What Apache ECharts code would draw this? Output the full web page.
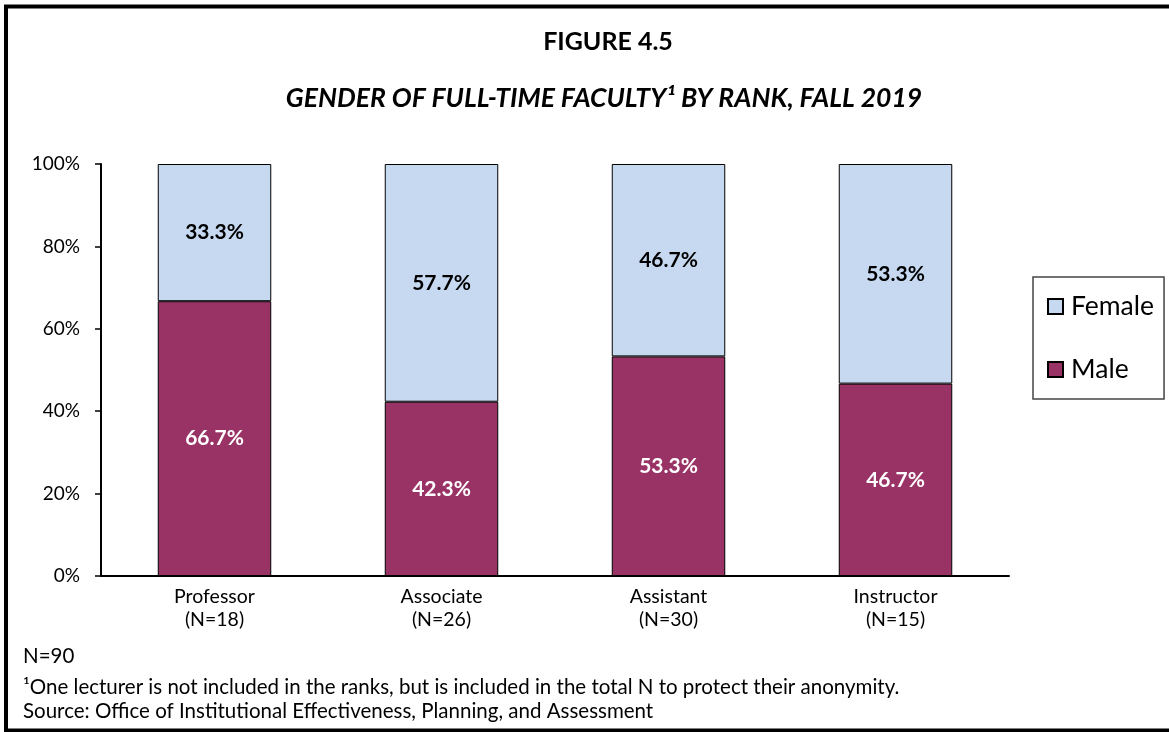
<!DOCTYPE html>
<html>
<head>
<meta charset="utf-8">
<script src="https://cdn.jsdelivr.net/npm/echarts@6/dist/echarts.min.js"></script>
<style>
  html, body { margin: 0; padding: 0; background: #fff; }
  #chart { width: 1169px; height: 732px; }
</style>
</head>
<body>
<div id="chart"></div>
<script>
// data
var categories = ['Professor\n(N=18)', 'Associate\n(N=26)', 'Assistant\n(N=30)', 'Instructor\n(N=15)']
var malePct = [66.7, 42.3, 53.3, 46.7]
var femalePct = [33.3, 57.7, 46.7, 53.3]
var yTicks = [0, 20, 40, 60, 80, 100]

var FONT = 'Lato, "Open Sans", sans-serif'

var chart = echarts.init(document.getElementById('chart'))

var option = {
  backgroundColor: '#fff',
  animation: false,
  textStyle: { fontFamily: FONT, color: '#000' },
  grid: {
    left: 101,
    right: 160,
    top: 164,
    bottom: 156
  },
  legend: {
    orient: 'vertical',
    left: 1033,
    top: 277,
    data: ['Female', 'Male'],
    itemWidth: 15,
    itemHeight: 15,
    itemGap: 36,
    padding: [16, 10, 16, 14],
    borderColor: '#444',
    borderWidth: 1.5,
    textStyle: { fontFamily: FONT, fontSize: 26.5, color: '#000', padding: [0, 0, 0, 3] },
    icon: 'rect'
  },
  xAxis: {
    type: 'category',
    data: categories,
    axisLine: { lineStyle: { color: '#000', width: 2 } },
    axisTick: { alignWithLabel: true, length: 6, lineStyle: { color: '#000', width: 1.5 } },
    axisLabel: { fontFamily: FONT, fontSize: 19.5, color: '#000', lineHeight: 23, margin: 9 }
  },
  yAxis: {
    type: 'value',
    min: yTicks[0],
    max: yTicks[yTicks.length - 1],
    interval: yTicks[1] - yTicks[0],
    axisLine: { show: true, lineStyle: { color: '#000', width: 2 } },
    axisTick: { show: true, length: 6, lineStyle: { color: '#000', width: 1.5 } },
    splitLine: { show: false },
    axisLabel: { fontFamily: FONT, fontSize: 19, color: '#000', margin: 21, formatter: '{value}%' }
  },
  series: [
    {
      name: 'Male',
      type: 'bar',
      stack: 'g',
      data: malePct,
      barWidth: '50%',
      itemStyle: { color: '#993366', borderColor: '#000', borderWidth: 1 },
      label: {
        show: true,
        position: 'inside',
        color: '#fff',
        fontFamily: FONT,
        fontWeight: 'bold',
        fontSize: 21,
        formatter: function (p) { return p.value.toFixed(1) + '%' }
      }
    },
    {
      name: 'Female',
      type: 'bar',
      stack: 'g',
      data: femalePct,
      barWidth: '50%',
      itemStyle: { color: '#c6d9f0', borderColor: '#000', borderWidth: 1 },
      label: {
        show: true,
        position: 'inside',
        color: '#000',
        fontFamily: FONT,
        fontWeight: 'bold',
        fontSize: 21,
        formatter: function (p) { return p.value.toFixed(1) + '%' }
      }
    }
  ],
  graphic: [
    // outer frame (right edge is cut off in the original)
    {
      type: 'rect',
      shape: { x: 6, y: 6.5, width: 1200, height: 724 },
      style: { fill: 'none', stroke: '#000', lineWidth: 4 },
      z: 100
    },
    {
      type: 'text',
      x: 608, y: 42,
      style: { text: 'FIGURE 4.5', font: 'bold 25px ' + FONT, fill: '#000', textAlign: 'center', textVerticalAlign: 'middle' }
    },
    {
      type: 'text',
      x: 604, y: 98,
      style: { text: 'GENDER OF FULL-TIME FACULTY\u00b9 BY RANK, FALL 2019', font: 'italic bold 26.5px ' + FONT, fill: '#000', textAlign: 'center', textVerticalAlign: 'middle' }
    },
    {
      type: 'text',
      x: 23, y: 656,
      style: { text: 'N=90', font: '20.5px ' + FONT, fill: '#000', textVerticalAlign: 'middle' }
    },
    {
      type: 'text',
      x: 23, y: 687,
      style: { text: '\u00b9One lecturer is not included in the ranks, but is included in the total N to protect their anonymity.', font: '20.5px ' + FONT, fill: '#000', textVerticalAlign: 'middle' }
    },
    {
      type: 'text',
      x: 23, y: 711,
      style: { text: 'Source: Office of Institutional Effectiveness, Planning, and Assessment', font: '20.5px ' + FONT, fill: '#000', textVerticalAlign: 'middle' }
    }
  ]
}

chart.setOption(option)
</script>
</body>
</html>
